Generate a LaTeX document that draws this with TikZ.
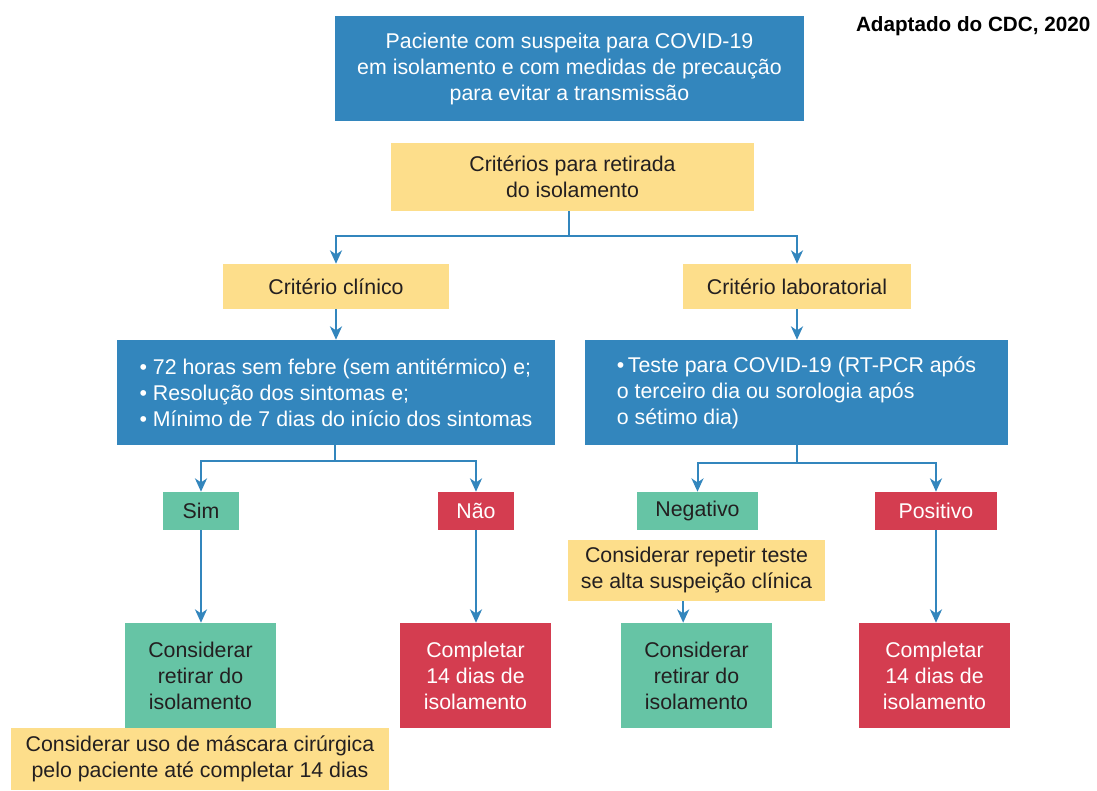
\documentclass[tikz,border=0pt]{standalone}
\usepackage{fontspec}
\setmainfont{Liberation Sans}
\usetikzlibrary{arrows.meta}
\definecolor{cblue}{HTML}{3386BD}
\definecolor{cyellow}{HTML}{FDDE8B}
\definecolor{cgreen}{HTML}{66C4A5}
\definecolor{cred}{HTML}{D43D50}
\definecolor{ctext}{HTML}{231F20}
\begin{document}
\begin{tikzpicture}[x=0.75pt,y=-0.75pt,
  box/.style={rectangle, inner sep=0pt, font=\fontsize{16}{19.5}\selectfont, align=center},
  bluebox/.style={box, fill=cblue, text=white},
  yellowbox/.style={box, fill=cyellow, text=ctext},
  greenbox/.style={box, fill=cgreen, text=ctext},
  redbox/.style={box, fill=cred, text=white},
  conn/.style={draw=cblue, line width=1.5pt},
  arr/.style={conn, -{Stealth[length=10pt,width=9pt,inset=3pt]}}]
\useasboundingbox (0,0) rectangle (1097,791);

\node[anchor=base east, font=\bfseries\fontsize{15.5}{18}\selectfont, text=black] (src) at (1095,31.5) {Adaptado do CDC, 2020};

\node[bluebox, minimum width=351.75pt, minimum height=78.75pt] (top) at (569.5,68.5)
  {Paciente com suspeita para COVID-19\\em isolamento e com medidas de precaução\\para evitar a transmissão};
\node[yellowbox, minimum width=272.25pt, minimum height=51pt] (crit) at (572.5,177)
  {Critérios para retirada\\do isolamento};
\node[yellowbox, minimum width=169.5pt, minimum height=33.75pt] (clin) at (336,286.5) {Critério clínico};
\node[yellowbox, minimum width=171pt, minimum height=33.75pt] (lab) at (797,286.5) {Critério laboratorial};

\node[bluebox, align=left, minimum width=328.5pt, minimum height=78.75pt] (lb) at (336,392.5)
  {\textbullet\ 72 horas sem febre (sem antitérmico) e;\\\textbullet\ Resolução dos sintomas e;\\\textbullet\ Mínimo de 7 dias do início dos sintomas};
\node[bluebox, align=left, minimum width=317.25pt, minimum height=78.75pt] (rb) at (796.5,392.5)
  {\textbullet\,Teste para COVID-19 (RT-PCR após\\o terceiro dia ou sorologia após\\o sétimo dia)};

\node[greenbox, minimum width=57pt, minimum height=28.5pt] (sim) at (201,511) {Sim};
\node[redbox, minimum width=57pt, minimum height=28.5pt] (nao) at (476,511) {Não};
\node[greenbox, minimum width=90.75pt, minimum height=28.5pt] (neg) at (697.5,511) {Negativo};
\node[redbox, minimum width=91.5pt, minimum height=28.5pt] (pos) at (936,511) {Positivo};

\node[yellowbox, minimum width=192.75pt, minimum height=45.75pt] (rep) at (696.5,570.5)
  {Considerar repetir teste\\se alta suspeição clínica};

\node[greenbox, minimum width=113.25pt, minimum height=78.75pt] (ret1) at (200.5,675.5) {Considerar\\retirar do\\isolamento};
\node[redbox, minimum width=113.25pt, minimum height=78.75pt] (comp1) at (475.5,675.5) {Completar\\14 dias de\\isolamento};
\node[greenbox, minimum width=113.25pt, minimum height=78.75pt] (ret2) at (696.5,675.5) {Considerar\\retirar do\\isolamento};
\node[redbox, minimum width=113.25pt, minimum height=78.75pt] (comp2) at (934.5,675.5) {Completar\\14 dias de\\isolamento};

\node[yellowbox, minimum width=283.5pt, minimum height=46.5pt] (mask) at (200,759)
  {Considerar uso de máscara cirúrgica\\pelo paciente até completar 14 dias};

% connectors
\coordinate (j1) at (569,236);
\draw[conn] (crit.south -| j1) -- (j1);
\draw[arr] (j1) -| (clin.north);
\draw[arr] (j1) -| (lab.north);
\draw[arr] (clin.south) -- (clin.south |- lb.north);
\draw[arr] (lab.south) -- (lab.south |- rb.north);

\coordinate (j2) at (335,461);
\draw[conn] (lb.south -| j2) -- (j2);
\draw[arr] (j2) -| (sim.north);
\draw[arr] (j2) -| (nao.north);

\coordinate (j3) at (797,463);
\draw[conn] (rb.south -| j3) -- (j3);
\draw[arr] (j3) -| (neg.north);
\draw[arr] (j3) -| (pos.north);

\draw[arr] (sim.south) -- (sim.south |- ret1.north);
\draw[arr] (nao.south) -- (nao.south |- comp1.north);
\draw[arr] ([xshift=-10pt]rep.south) -- ([xshift=-10pt]rep.south |- ret2.north);
\draw[arr] (pos.south) -- (pos.south |- comp2.north);
\end{tikzpicture}
\end{document}
